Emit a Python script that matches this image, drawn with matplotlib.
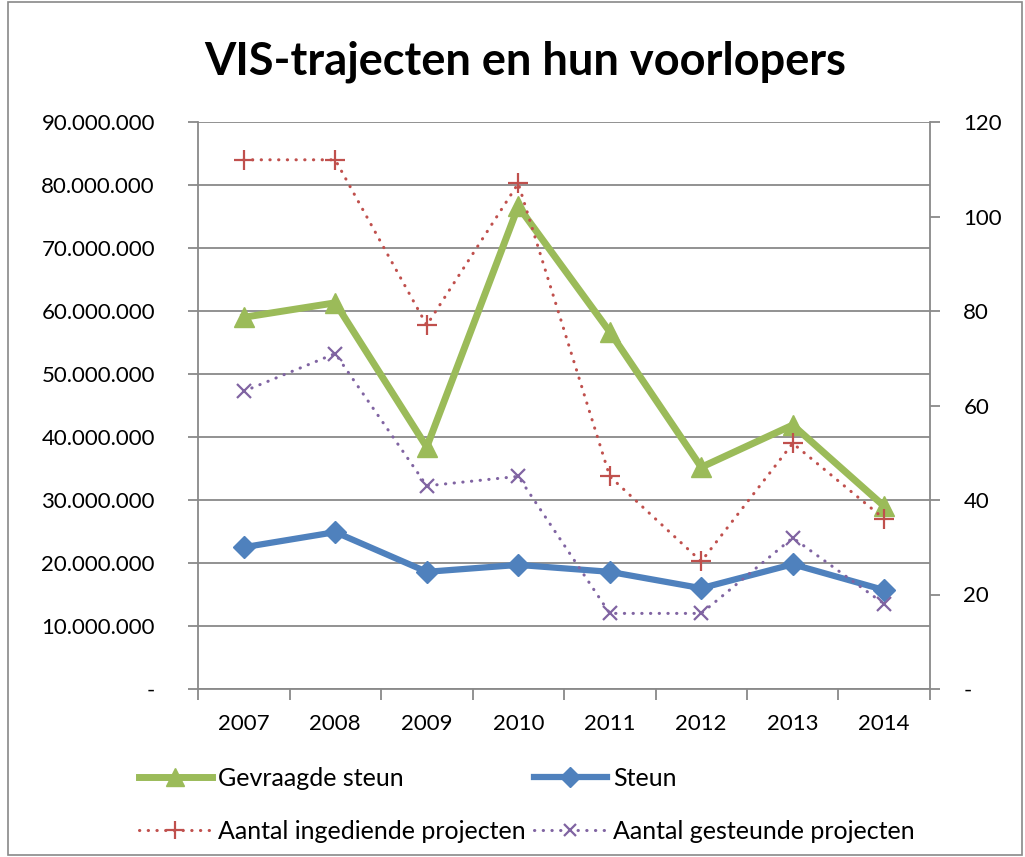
import matplotlib
matplotlib.use("Agg")
import matplotlib.pyplot as plt
from matplotlib.ticker import FuncFormatter, MultipleLocator
from matplotlib.patches import Rectangle

years = ["2007", "2008", "2009", "2010", "2011", "2012", "2013", "2014"]
gevraagde_steun = [59.0e6, 61.3e6, 38.4e6, 76.6e6, 56.7e6, 35.2e6, 41.9e6, 29.0e6]
steun = [22.5e6, 24.9e6, 18.6e6, 19.7e6, 18.6e6, 16.0e6, 19.8e6, 15.7e6]
aantal_ingediend = [112, 112, 77, 107, 45, 27, 52, 36]
aantal_gesteund = [63, 71, 43, 45, 16, 16, 32, 18]

title = "VIS-trajecten en hun voorlopers"
labels = ["Gevraagde steun", "Steun", "Aantal ingediende projecten", "Aantal gesteunde projecten"]

GREEN = "#9BBB59"
BLUE = "#4F81BD"
RED = "#C0504D"
PURPLE = "#8064A2"
GRID = "#898989"

plt.rcParams['font.family'] = ['Lato', 'DejaVu Sans']

fig = plt.figure(figsize=(10.25, 8.57), dpi=100)
ax = fig.add_axes([198/1025, 1-689/857, (930-198)/1025, (689-122)/857])
ax2 = ax.twinx()

x = list(range(len(years)))

l1, = ax.plot(x, gevraagde_steun, color=GREEN, lw=5, marker='^', ms=15,
              solid_joinstyle='miter', zorder=3)
l2, = ax.plot(x, steun, color=BLUE, lw=4.5, marker='D', ms=11, zorder=3)
dots = (0, (0.1, 2.75))
l3, = ax2.plot(x, aantal_ingediend, color=RED, lw=2.2, ls=dots, dash_capstyle='round',
               marker='+', ms=14, mew=1.6)
l4, = ax2.plot(x, aantal_gesteund, color=PURPLE, lw=2.2, ls=dots, dash_capstyle='round',
               marker='x', ms=10, mew=1.6)

ax.set_xlim(-0.5, len(years) - 0.5)
ax.set_ylim(0, 90e6)
ax2.set_ylim(0, 120)
ax.yaxis.set_major_locator(MultipleLocator(10e6))
ax2.yaxis.set_major_locator(MultipleLocator(20))

def money(v, p):
    if v == 0:
        return "-"
    return f"{int(round(v)):,}".replace(",", ".")

def count(v, p):
    if v == 0:
        return "-"
    return f"{int(round(v))}"

ax.yaxis.set_major_formatter(FuncFormatter(money))
ax2.yaxis.set_major_formatter(FuncFormatter(count))

ax.set_xticks([i - 0.5 for i in range(len(years) + 1)])
ax.set_xticklabels([])
ax.set_xticks(x, minor=True)
ax.set_xticklabels(years, minor=True)
ax.tick_params(axis='x', which='minor', length=0, pad=18, labelsize=16)
ax.tick_params(axis='x', which='major', length=8, width=1.3, color=GRID, direction='out')
ax.tick_params(axis='y', length=7, width=1.3, color=GRID, direction='out', labelsize=16, pad=24)
ax2.tick_params(axis='y', length=7, width=1.3, color=GRID, direction='out', labelsize=16, pad=17)

ax.grid(axis='y', color=GRID, lw=1.3)
ax.set_axisbelow(True)
for a in (ax, ax2):
    a.spines['top'].set_visible(False)
    for s in ('left', 'right', 'bottom'):
        a.spines[s].set_color(GRID)
        a.spines[s].set_linewidth(1.3)
ax.spines['right'].set_visible(False)
ax2.spines['left'].set_visible(False)
ax2.spines['bottom'].set_visible(False)

fig.text(0.512, 1-62/857, title, ha='center', va='center', fontsize=32.5, fontweight='bold')

leg = fig.legend([l1, l3, l2, l4], [labels[0], labels[2], labels[1], labels[3]],
                 ncol=2, loc='upper left', bbox_to_anchor=(139/1025, 1-767/857),
                 borderpad=0, borderaxespad=0,
                 frameon=False, fontsize=18, handlelength=2.9, handletextpad=0.25,
                 columnspacing=0.35, labelspacing=1.2, markerscale=0.9)

fig.patches.append(Rectangle((8/1025, 2/857), 1-11/1025, 1-4/857, transform=fig.transFigure,
                             fill=False, edgecolor=GRID, lw=1.2))

fig.savefig("out.png", dpi=100)
